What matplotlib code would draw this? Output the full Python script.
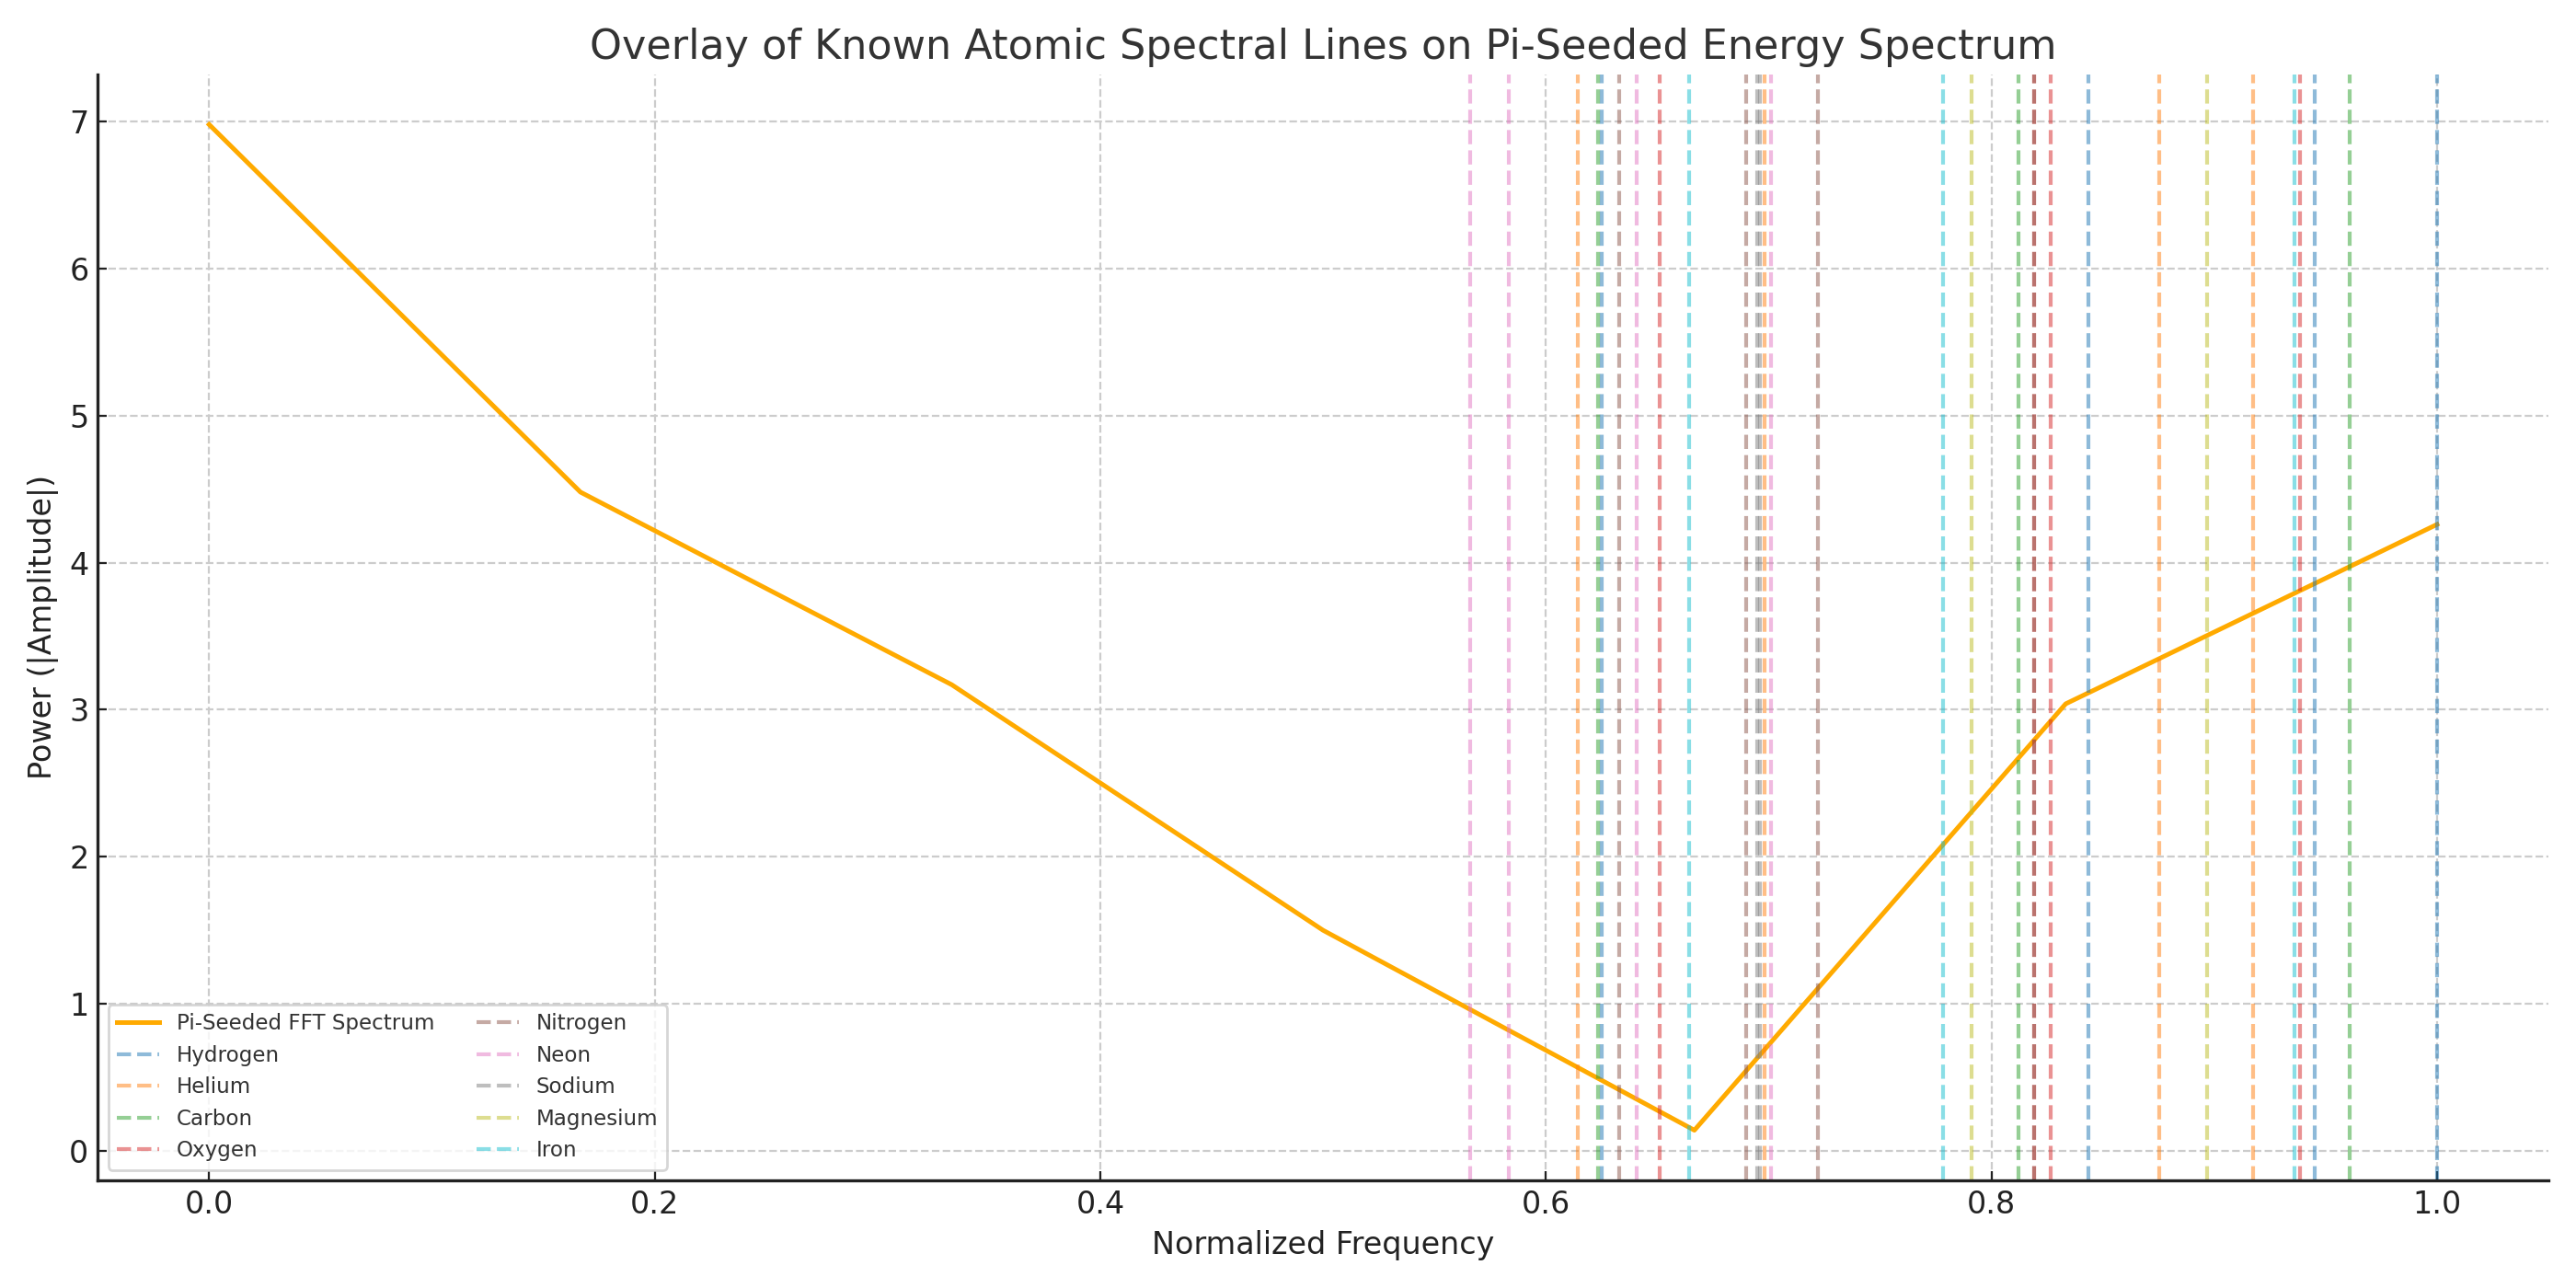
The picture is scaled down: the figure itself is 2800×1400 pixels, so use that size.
import matplotlib
matplotlib.use("Agg")
import matplotlib.pyplot as plt

# FFT spectrum
freq = [0.0, 1/6, 2/6, 3/6, 4/6, 5/6, 1.0]
power = [6.98, 4.48, 3.17, 1.50, 0.14, 3.04, 4.26]

# Atomic spectral lines (normalized positions)
elements = ["Hydrogen", "Helium", "Carbon", "Oxygen", "Nitrogen",
            "Neon", "Sodium", "Magnesium", "Iron"]
hydrogen = [0.6251, 0.8437, 0.9451, 1.0]
helium = [0.6142, 0.6981, 0.8752, 0.9173]
carbon = [0.6235, 0.8121, 0.9610]
oxygen = [0.6511, 0.8193, 0.8268, 0.9387]
nitrogen = [0.6328, 0.6898, 0.7221, 0.8193]
neon = [0.5659, 0.5834, 0.6407, 0.7011]
sodium = [0.6950, 0.6960]
magnesium = [0.7910, 0.8967]
iron = [0.6642, 0.7782, 0.9360]
lines = [hydrogen, helium, carbon, oxygen, nitrogen, neon, sodium, magnesium, iron]
colors = ["tab:blue", "tab:orange", "tab:green", "tab:red", "tab:brown",
          "tab:pink", "tab:gray", "tab:olive", "tab:cyan"]

fig, ax = plt.subplots(figsize=(14, 7), dpi=200)
ax.plot(freq, power, color="#FFAA00", lw=1.8, label="Pi-Seeded FFT Spectrum")
for name, vals, c in zip(elements, lines, colors):
    for i, v in enumerate(vals):
        ax.axvline(v, color=c, ls="--", lw=1.5, alpha=0.5,
                   label=name if i == 0 else None)

ax.set_title("Overlay of Known Atomic Spectral Lines on Pi-Seeded Energy Spectrum",
             fontsize=16, color="#333333")
ax.set_xlabel("Normalized Frequency", fontsize=12, color="#222222")
ax.set_ylabel("Power (|Amplitude|)", fontsize=12, color="#222222")
ax.grid(True, ls="--", color="#cccccc", lw=0.8)
ax.set_axisbelow(True)
for s in ["top", "right"]:
    ax.spines[s].set_visible(False)
for s in ["left", "bottom"]:
    ax.spines[s].set_color("#222222")
    ax.spines[s].set_linewidth(1.2)
ax.tick_params(direction="in", labelsize=12, colors="#222222")
ax.legend(loc="lower left", ncol=2, fontsize=8.3, framealpha=0.8,
          edgecolor="#cccccc", labelcolor="#333333")
fig.tight_layout()
fig.savefig("out.png")
